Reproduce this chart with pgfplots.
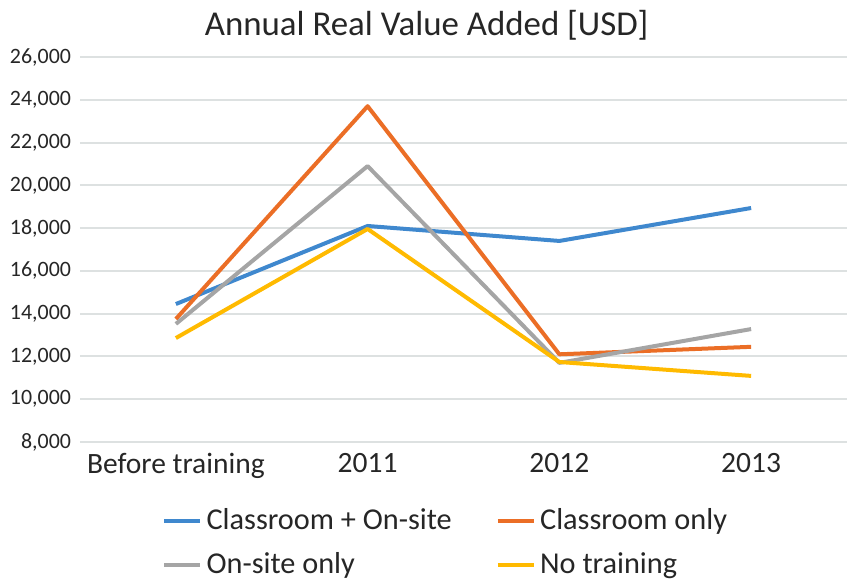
\documentclass[border=0pt]{standalone}
\usepackage{fontspec}
\setmainfont{Carlito}
\usepackage{pgfplots}
\pgfplotsset{compat=1.18}

\definecolor{cBlue}{HTML}{3F88CE}
\definecolor{cOrange}{HTML}{EB6E26}
\definecolor{cGray}{HTML}{A5A5A5}
\definecolor{cYellow}{HTML}{FFBA00}
\definecolor{cGrid}{HTML}{DDE1E1}
\definecolor{cText}{HTML}{262626}

\begin{document}
\begin{tikzpicture}
\path[use as bounding box] (-40bp,-71bp) rectangle (383.5bp,221bp);
\begin{axis}[
    scale only axis,
    width=383.5bp, height=192.5bp,
    xmin=-0.5, xmax=3.5,
    ymin=8000, ymax=26000,
    xtick={0,1,2,3},
    xticklabels={Before training, 2011, 2012, 2013},
    ytick={8000,10000,...,26000},
    scaled y ticks=false,
    /pgf/number format/.cd, 1000 sep={,}, assume math mode=true,
    /pgfplots/.cd,
    ymajorgrids,
    grid style={cGrid, line width=1bp},
    axis line style={draw=none},
    major tick length=0pt,
    tick label style={text=cText},
    yticklabel style={font=\fontsize{11}{13}\selectfont, xshift=-1bp},
    xticklabel style={font=\fontsize{14.8}{17}\selectfont, yshift=-2bp},
    title={Annual Real Value Added [USD]},
    title style={font=\fontsize{17.5}{20}\selectfont, text=cText, at={(0.452,1)}, anchor=south, yshift=-1bp},
    legend columns=2,
    legend cell align=left,
    legend style={draw=none, at={(0.478,-0.152)}, anchor=north,
        font=\fontsize{15.2}{18}\selectfont, text=cText,
        /tikz/every even column/.append style={column sep=20bp},
        row sep=6bp},
    legend image code/.code={\draw[#1, line width=2.2bp] (0bp,0bp) -- (18bp,0bp);},
    every axis plot/.append style={line width=2bp, line join=round, mark=none},
]
\addplot[cBlue] coordinates {(0,14450) (1,18100) (2,17400) (3,18940)};
\addlegendentry{Classroom + On-site}
\addplot[cOrange] coordinates {(0,13750) (1,23700) (2,12100) (3,12450)};
\addlegendentry{Classroom only}
\addplot[cGray] coordinates {(0,13520) (1,20900) (2,11700) (3,13280)};
\addlegendentry{On-site only}
\addplot[cYellow] coordinates {(0,12860) (1,17960) (2,11740) (3,11090)};
\addlegendentry{No training}
\end{axis}
\end{tikzpicture}
\end{document}
